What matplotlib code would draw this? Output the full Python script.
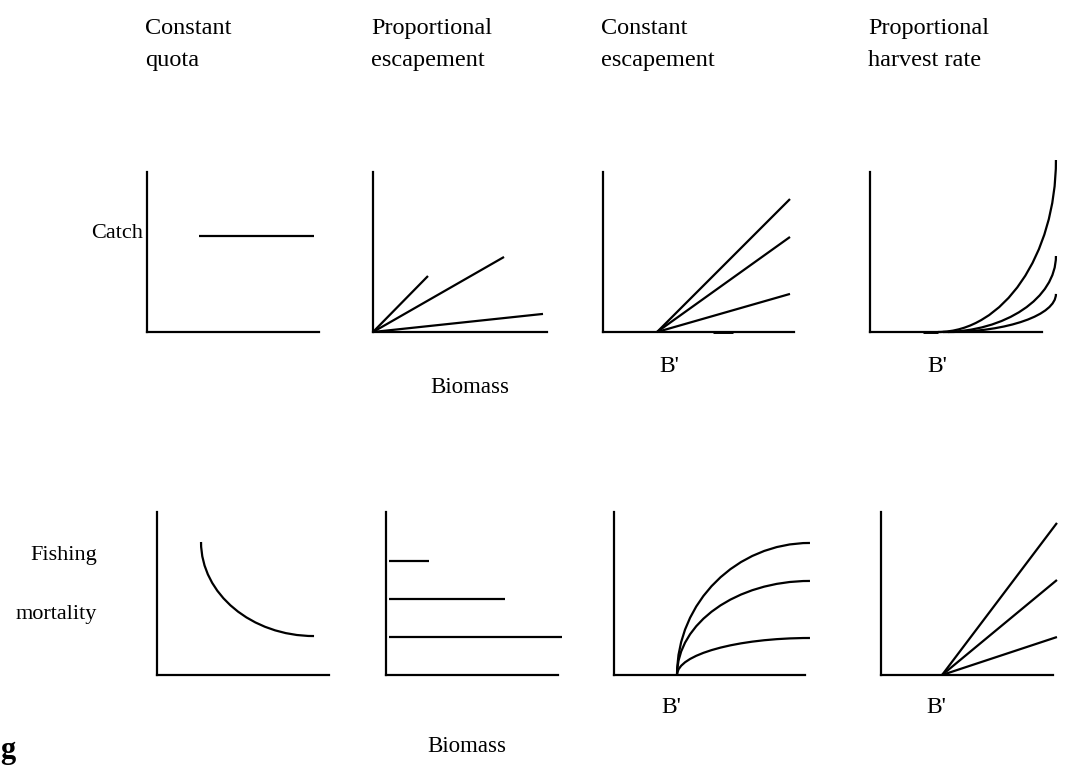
import numpy as np
import matplotlib.pyplot as plt
from matplotlib.path import Path
from matplotlib.patches import PathPatch

plt.rcParams['font.family'] = ['Liberation Serif', 'DejaVu Serif']

W, H = 1065, 765
K = 0.5523  # bezier factor for a quarter ellipse

# column / row labels
col_titles = [["Constant", "quota"], ["Proportional", "escapement"],
              ["Constant", "escapement"], ["Proportional", "harvest rate"]]

# panel 1 top: constant catch
p1_x = [3.0, 9.7]
p1_y = [6.0, 6.0]

# panel 2 top: proportional escapement, rays from origin
p2_end_x = [3.16, 7.53, 9.77]
p2_end_y = [3.5, 4.69, 1.13]

# panel 3 top: constant escapement, rays from B'
p3_b = 2.83
p3_end_x = [9.79, 9.79, 9.79]
p3_end_y = [8.31, 5.94, 2.38]
p3_stub = [5.76, 6.81]

# panel 4 top: proportional harvest rate, rising curves
p4_start_x = [3.95, 4.24, 4.53]
p4_end_x = [10.81, 10.81, 10.81]
p4_end_y = [10.75, 4.75, 2.38]
p4_stub = [3.08, 3.95]

# panel 1 bottom: F declining with biomass
p5_start = [2.56, 8.16]
p5_end = [9.13, 2.39]

# panel 2 bottom: constant F levels
p6_levels = [6.99, 4.66, 2.33]
p6_start_x = [0.17, 0.17, 0.17]
p6_end_x = [2.5, 6.92, 10.23]

# panel 3 bottom: saturating F above B'
p7_b = 3.30
p7_end_x = [10.26, 10.26, 10.26]
p7_end_y = [8.10, 5.77, 2.27]

# panel 4 bottom: rays from B'
p8_b = 3.55
p8_end_x = [10.23, 10.23, 10.23]
p8_end_y = [9.33, 5.83, 2.33]

# axes boxes in pixels (left, right, top, bottom)
top_boxes = [(147, 319), (373, 547), (603, 794), (870, 1042)]
bot_boxes = [(157, 329), (386, 558), (614, 805), (881, 1053)]
top_y = (172, 332)
bot_y = (512, 675)

fig = plt.figure(figsize=(W / 100, H / 100), dpi=100)


def make_ax(xb, yb):
    ax = fig.add_axes([xb[0] / W, 1 - yb[1] / H, (xb[1] - xb[0]) / W, (yb[1] - yb[0]) / H])
    ax.set_xlim(0, 10)
    ax.set_ylim(0, 10)
    for s in ['top', 'right']:
        ax.spines[s].set_visible(False)
    for s in ['left', 'bottom']:
        ax.spines[s].set_linewidth(1.6)
        ax.spines[s].set_color('black')
    ax.set_xticks([])
    ax.set_yticks([])
    ax.patch.set_alpha(0)
    return ax


def line(ax, x, y, lw=1.6):
    ax.plot(x, y, color='black', lw=lw, clip_on=False, solid_capstyle='butt')


def bezier(ax, p0, p1, p2, p3):
    path = Path([p0, p1, p2, p3], [Path.MOVETO, Path.CURVE4, Path.CURVE4, Path.CURVE4])
    ax.add_patch(PathPatch(path, fc='none', ec='black', lw=1.6, clip_on=False))


axs_top = [make_ax(b, top_y) for b in top_boxes]
axs_bot = [make_ax(b, bot_y) for b in bot_boxes]

# top row
line(axs_top[0], p1_x, p1_y)
for ex, ey in zip(p2_end_x, p2_end_y):
    line(axs_top[1], [0, ex], [0, ey])
for ex, ey in zip(p3_end_x, p3_end_y):
    line(axs_top[2], [p3_b, ex], [0, ey])
line(axs_top[2], p3_stub, [0, 0], lw=2.1)
for sx, ex, ey in zip(p4_start_x, p4_end_x, p4_end_y):
    bezier(axs_top[3], (sx, 0), (sx + K * (ex - sx), 0), (ex, ey - K * ey), (ex, ey))
line(axs_top[3], p4_stub, [0, 0], lw=2.1)

# bottom row
bezier(axs_bot[0], p5_start, (p5_start[0], p5_start[1] - K * (p5_start[1] - p5_end[1])),
       (p5_end[0] - K * (p5_end[0] - p5_start[0]), p5_end[1]), p5_end)
for lv, sx, ex in zip(p6_levels, p6_start_x, p6_end_x):
    line(axs_bot[1], [sx, ex], [lv, lv])
for ex, ey in zip(p7_end_x, p7_end_y):
    bezier(axs_bot[2], (p7_b, 0), (p7_b, K * ey), (ex - K * (ex - p7_b), ey), (ex, ey))
for ex, ey in zip(p8_end_x, p8_end_y):
    line(axs_bot[3], [p8_b, ex], [0, ey])


def txt(x, y, s, size=16, **kw):
    fig.text(x / W, 1 - y / H, s, fontsize=size, color='black', **kw)


for (xl, _), (a, b) in zip(top_boxes, col_titles):
    txt(xl - 2, 34, a, size=17.5, ha='left', va='baseline')
    txt(xl - 2, 66, b, size=17.5, ha='left', va='baseline')

txt(117, 238, "Catch", ha='center', va='baseline')
txt(97, 560, "Fishing", ha='right', va='baseline')
txt(97, 619, "mortality", ha='right', va='baseline')

txt(470, 393, "Biomass", size=16.5, ha='center', va='baseline')
txt(467, 752, "Biomass", size=16.5, ha='center', va='baseline')

txt(669, 372, "B'", size=17, ha='center', va='baseline')
txt(937, 372, "B'", size=17, ha='center', va='baseline')
txt(671, 713, "B'", size=17, ha='center', va='baseline')
txt(936, 713, "B'", size=17, ha='center', va='baseline')

txt(0, 758, "g", size=22, ha='left', va='baseline', fontweight='bold')

fig.savefig('out.png', dpi=100, facecolor='white')
